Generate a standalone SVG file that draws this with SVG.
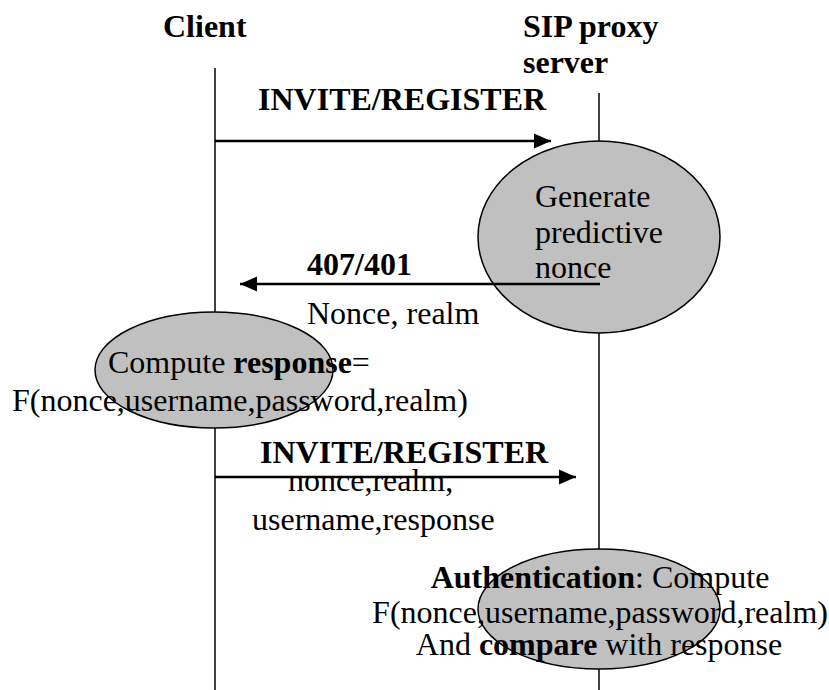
<svg xmlns="http://www.w3.org/2000/svg" width="829" height="690" viewBox="0 0 829 690">
<defs>
<style>
text{font-family:"Liberation Serif","Times New Roman",serif;font-size:32px;fill:#000}
.b{font-weight:bold}
.life{stroke:#000;stroke-width:1.5;fill:none}
.node{fill:#c0c0c0;stroke:#000;stroke-width:1.5}
.msg{stroke:#000;stroke-width:2.5;fill:none}
</style>
<marker id="ah" markerWidth="18" markerHeight="16" refX="17" refY="8" orient="auto" markerUnits="userSpaceOnUse">
<path d="M0,0.5 L17,8 L0,15.5 Z" fill="#000"/>
</marker>
</defs>
<rect width="829" height="690" fill="#fff"/>
<g id="lifelines">
<line class="life" x1="215" y1="68" x2="215" y2="690"/>
<line class="life" x1="599" y1="93" x2="599" y2="690"/>
</g>
<g id="header-client"><text class="b" x="163" y="37">Client</text></g>
<g id="header-server"><text class="b" x="523" y="37">SIP proxy</text><text class="b" x="523" y="73">server</text></g>
<g id="node-generate">
<ellipse class="node" cx="599" cy="237" rx="121" ry="96"/>
</g>
<g id="node-compute">
<ellipse class="node" cx="214" cy="370" rx="119" ry="58"/>
</g>
<g id="node-auth">
<ellipse class="node" cx="599" cy="609" rx="121" ry="60"/>
</g>
<g id="connectors">
<line class="msg" x1="215" y1="141" x2="551" y2="141" marker-end="url(#ah)"/>
<line class="msg" x1="600" y1="284" x2="240" y2="284" marker-end="url(#ah)"/>
<line class="msg" x1="215" y1="477" x2="576" y2="477" marker-end="url(#ah)"/>
</g>
<g id="labels">
<text class="b" x="258" y="110">INVITE/REGISTER</text>
<text x="535" y="207">Generate</text>
<text x="535" y="243">predictive</text>
<text x="535" y="278">nonce</text>
<text class="b" x="307" y="275">407/401</text>
<text x="307" y="324">Nonce, realm</text>
<text x="108" y="373">Compute <tspan class="b">response</tspan>=</text>
<text x="12" y="411">F(nonce,username,password,realm)</text>
<text class="b" x="260" y="463">INVITE/REGISTER</text>
<text x="288" y="491">nonce,realm,</text>
<text x="252" y="530">username,response</text>
<text x="600" y="588" text-anchor="middle"><tspan class="b">Authentication</tspan>: Compute</text>
<text x="600" y="623" text-anchor="middle">F(nonce,username,password,realm)</text>
<text x="599" y="655" text-anchor="middle">And <tspan class="b">compare</tspan> with response</text>
</g>
</svg>
